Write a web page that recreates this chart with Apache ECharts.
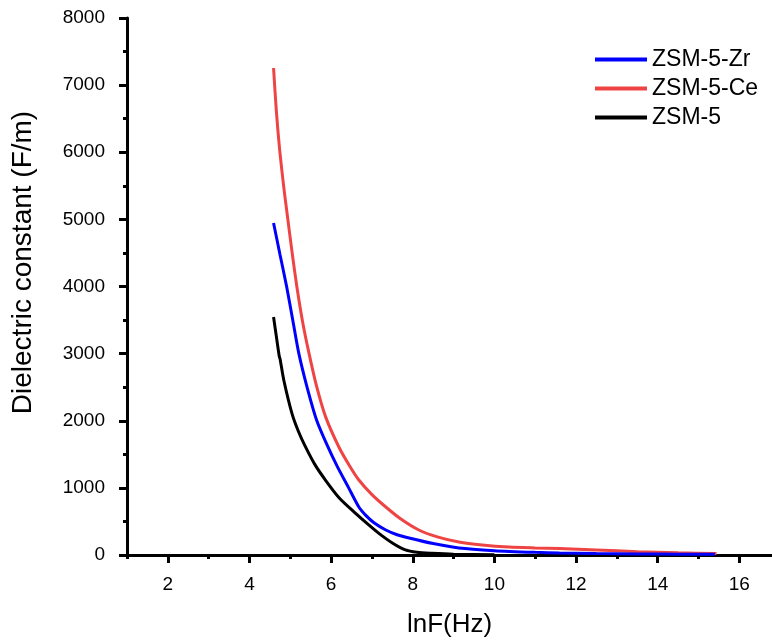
<!DOCTYPE html>
<html>
<head>
<meta charset="utf-8">
<script src="https://cdn.jsdelivr.net/npm/echarts@6/dist/echarts.min.js"></script>
<style>html,body{margin:0;padding:0;background:#fff;}#c{width:772px;height:641px;}</style>
</head>
<body>
<div id="c"></div>
<script>
// ---- data ----
const seriesNames = ['ZSM-5-Zr', 'ZSM-5-Ce', 'ZSM-5'];
const zrX = [4.59, 4.75, 4.91, 5.06, 5.21, 5.42, 5.65, 5.90, 6.15, 6.43, 6.68, 6.85, 7.05, 7.34, 7.6, 7.91, 8.5, 9.13, 10.0, 11.0, 11.59, 12.5, 13.5, 14.5, 15.4];
const zrY = [4946, 4470, 4000, 3500, 3000, 2480, 2000, 1640, 1320, 1000, 715, 590, 480, 372, 305, 253, 170, 104, 65, 40, 30, 22, 16, 12, 10];
const ceX = [4.59, 4.66, 4.74, 4.84, 4.94, 5.05, 5.16, 5.30, 5.46, 5.65, 5.87, 6.19, 6.45, 6.68, 7.0, 7.34, 7.7, 8.15, 8.6, 9.13, 9.7, 10.36, 11.0, 11.59, 12.5, 13.5, 14.5, 15.44];
const ceY = [7255, 6600, 6033, 5480, 5000, 4480, 4000, 3480, 3000, 2500, 2050, 1609, 1330, 1117, 900, 715, 540, 372, 270, 194, 150, 119, 105, 95, 75, 50, 32, 22];
const zsX = [4.59, 4.66, 4.73, 4.75, 4.84, 5.04, 5.20, 5.37, 5.60, 5.86, 6.20, 6.60, 6.90, 7.17, 7.50, 7.82, 8.1, 8.47, 9.0, 10.0];
const zsY = [3545, 3250, 2960, 2920, 2607, 2110, 1840, 1614, 1350, 1117, 850, 621, 460, 323, 180, 75, 40, 25, 12, 5];
const xMajorTicks = [2, 4, 6, 8, 10, 12, 14, 16];
const xMinorTicks = [1, 3, 5, 7, 9, 11, 13, 15];
const colors = ['#0000ff', '#ef4444', '#000000'];

function pairs(xs, ys) { return xs.map((x, i) => [x, ys[i]]); }

const font = '"Liberation Sans", Arial, sans-serif';
const chart = echarts.init(document.getElementById('c'), null, {renderer: 'canvas'});
const baseX = {
  type: 'value', min: 1, max: 16.8, interval: 1,
  position: 'bottom', splitLine: {show: false}
};
chart.setOption({
  animation: false,
  backgroundColor: '#fff',
  grid: {left: 127, right: 0, top: 18, bottom: 86, containLabel: false, outerBoundsMode: 'none'},
  legend: {
    orient: 'vertical', left: 590, top: 43,
    icon: 'rect', itemWidth: 52, itemHeight: 4, itemGap: 6,
    data: seriesNames,
    textStyle: {fontFamily: font, fontSize: 23, color: '#000', lineHeight: 23}
  },
  xAxis: [
    Object.assign({}, baseX, {
      name: 'lnF(Hz)', nameLocation: 'middle', nameGap: 57,
      nameTextStyle: {fontFamily: font, fontSize: 26, color: '#000'},
      axisLine: {show: true, onZero: false, lineStyle: {color: '#000', width: 3}},
      axisTick: {show: true, length: 8, customValues: xMajorTicks, lineStyle: {color: '#000', width: 3}},
      axisLabel: {show: true, customValues: xMajorTicks, margin: 20, fontFamily: font, fontSize: 19, color: '#000'}
    }),
    Object.assign({}, baseX, {
      axisLine: {show: false, onZero: false},
      axisTick: {show: true, length: 4, customValues: xMinorTicks, lineStyle: {color: '#000', width: 3}},
      axisLabel: {show: false}
    })
  ],
  yAxis: {
    type: 'value', min: 0, max: 8000, interval: 1000,
    name: 'Dielectric constant (F/m)', nameLocation: 'middle', nameGap: 90,
    nameTextStyle: {fontFamily: font, fontSize: 28, color: '#000', padding: [0, 0, 0, 48]},
    axisLine: {show: true, onZero: false, lineStyle: {color: '#000', width: 3}},
    axisTick: {show: true, length: 8, lineStyle: {color: '#000', width: 3}},
    minorTick: {show: true, splitNumber: 2, length: 4, lineStyle: {color: '#000', width: 3}},
    axisLabel: {margin: 22, fontFamily: font, fontSize: 19, color: '#000', formatter: v => String(v)},
    splitLine: {show: false}
  },
  series: [
    {name: seriesNames[0], type: 'line', data: pairs(zrX, zrY), showSymbol: false, smooth: 0.25, color: colors[0], lineStyle: {width: 3}, z: 3},
    {name: seriesNames[1], type: 'line', data: pairs(ceX, ceY), showSymbol: false, smooth: 0.25, color: colors[1], lineStyle: {width: 3}, z: 2},
    {name: seriesNames[2], type: 'line', data: pairs(zsX, zsY), showSymbol: false, smooth: 0.25, color: colors[2], lineStyle: {width: 3}, z: 4}
  ]
});
</script>
</body>
</html>
